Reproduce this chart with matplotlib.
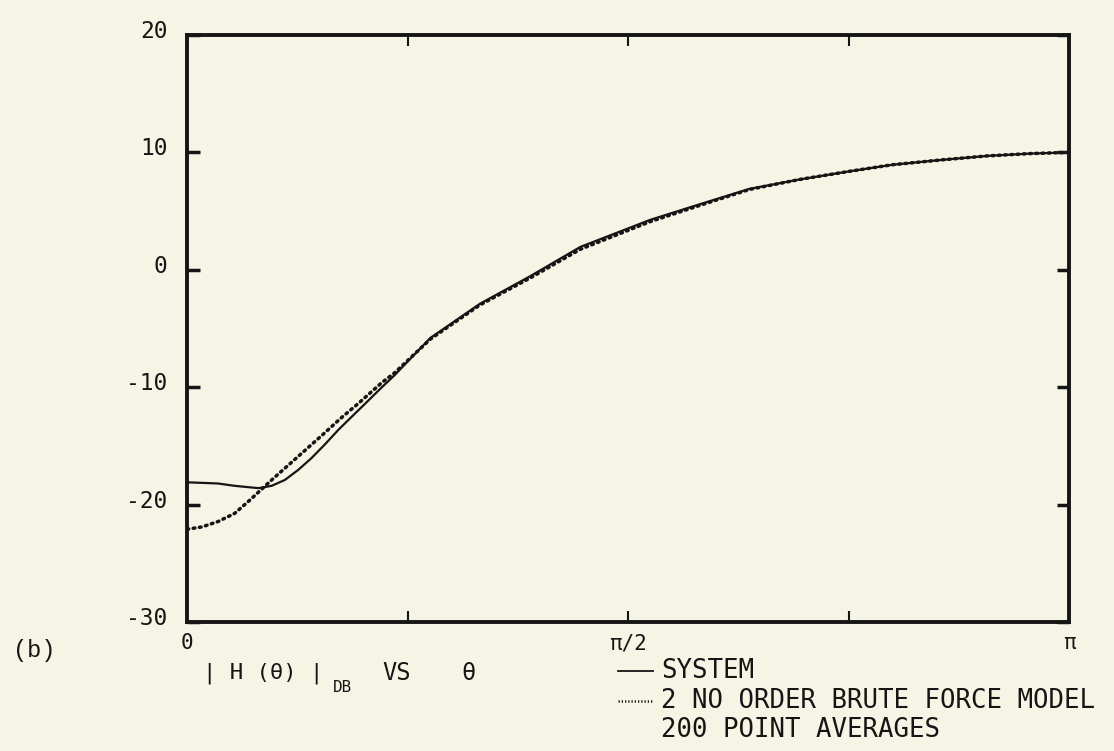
import numpy as np
import matplotlib
matplotlib.use("Agg")
import matplotlib.pyplot as plt
from matplotlib.lines import Line2D
from matplotlib.transforms import ScaledTranslation

# Frequency axis, as fractions of pi
theta_system = [0.000, 0.035, 0.054, 0.081, 0.096, 0.111, 0.126, 0.141, 0.156,
                0.172, 0.187, 0.202, 0.221, 0.235, 0.276, 0.332, 0.389, 0.446,
                0.525, 0.582, 0.638, 0.695, 0.752, 0.800, 0.854, 0.907, 0.956, 1.000]
# |H(theta)| in dB for the true system
h_system = [-18.1, -18.2, -18.4, -18.6, -18.4, -17.9, -17.05, -16.05, -14.9,
            -13.6, -12.5, -11.4, -10.0, -9.0, -5.8, -2.9, -0.55, 1.95,
            4.25, 5.6, 6.9, 7.7, 8.4, 8.95, 9.35, 9.7, 9.9, 10.0]

theta_model = [0.000, 0.017, 0.035, 0.054, 0.073, 0.083, 0.096, 0.111, 0.126,
               0.141, 0.156, 0.175, 0.194, 0.209, 0.221, 0.235, 0.276, 0.332,
               0.389, 0.446, 0.525, 0.582, 0.638, 0.695, 0.752, 0.800, 0.854,
               0.907, 0.956, 1.000]
# |H(theta)| in dB for the 2nd order brute force model
h_model = [-22.1, -21.9, -21.45, -20.75, -19.5, -18.8, -17.9, -16.9, -15.9,
           -14.9, -13.9, -12.6, -11.4, -10.4, -9.6, -8.8, -5.9, -3.0,
           -0.7, 1.75, 4.1, 5.5, 6.85, 7.7, 8.4, 8.95, 9.35, 9.7, 9.9, 10.0]

y_ticks = [-30, -20, -10, 0, 10, 20]
x_tick_labels = ["0", "π/2", "π"]
legend_labels = ["SYSTEM", "2 NO ORDER BRUTE FORCE MODEL", "200 POINT AVERAGES"]

BG = "#f5f4e5"
INK = "#151515"
FONT = ["DejaVu Sans Mono", "DejaVu Sans"]
plt.rcParams["font.family"] = FONT

W, H = 1114, 751
fig = plt.figure(figsize=(W / 100, H / 100), dpi=100, facecolor=BG)
ax = fig.add_axes([187 / W, 1 - 622 / H, 882 / W, (622 - 35) / H], facecolor=BG)

x_sys = np.pi * np.array(theta_system)
x_mod = np.pi * np.array(theta_model)

ax.plot(x_sys, h_system, color=INK, lw=1.6, solid_capstyle="round", zorder=3)
ax.plot(x_mod, h_model, color=INK, lw=2.5, linestyle=(0, (0.5, 1.3)),
        dash_capstyle="round", zorder=2)

ax.set_xlim(0, np.pi)
ax.set_ylim(-30, 20)

for s in ax.spines.values():
    s.set_linewidth(2.8)
    s.set_color(INK)

ax.set_yticks(y_ticks)
ax.set_yticklabels([str(v) for v in y_ticks])
ax.set_xticks([0, np.pi / 2, np.pi])
ax.set_xticklabels(x_tick_labels)
ax.set_xticks([np.pi / 4, 3 * np.pi / 4], minor=True)

ax.tick_params(axis="y", which="major", direction="in", length=9, width=2.5,
               color=INK, labelcolor=INK, labelsize=16.5, pad=14,
               left=True, right=True)
ax.tick_params(axis="x", which="both", direction="in", length=8, width=1.5,
               color=INK, labelcolor=INK, labelsize=15, pad=8,
               top=True, bottom=True)

# Lift the y labels a touch above their ticks
for lab in ax.get_yticklabels():
    lab.set_transform(lab.get_transform() + ScaledTranslation(0, 6 / 100, fig.dpi_scale_trans))

def fx(px):
    return px / W

def fy(py):
    return 1 - py / H

# Panel tag
fig.text(fx(13), fy(650), "(b)", fontsize=17, color=INK, va="center", ha="left",
         family=["Liberation Mono", "DejaVu Sans Mono"])

# Axis caption: |H(theta)|_DB VS theta
fig.text(fx(203), fy(673), "| H (θ) |", fontsize=16, color=INK, va="center", ha="left")
fig.text(fx(333), fy(688), "DB", fontsize=11.5, color=INK, va="center", ha="left")
fig.text(fx(382), fy(673), "VS", fontsize=17, color=INK, va="center", ha="left")
fig.text(fx(461), fy(673), "θ", fontsize=17, color=INK, va="center", ha="left")

# Legend
fig.add_artist(Line2D([fx(618), fx(653)], [fy(671), fy(671)], color=INK, lw=1.3,
                      transform=fig.transFigure))
fig.add_artist(Line2D([fx(618), fx(653)], [fy(701), fy(701)], color=INK, lw=1.8,
                      linestyle=(0, (0.5, 0.8)), transform=fig.transFigure))
for label, py in zip(legend_labels, [671, 701, 730]):
    fig.text(fx(661), fy(py), label, fontsize=18.5, color=INK, va="center", ha="left")

fig.savefig("out.png", dpi=100, facecolor=BG)
